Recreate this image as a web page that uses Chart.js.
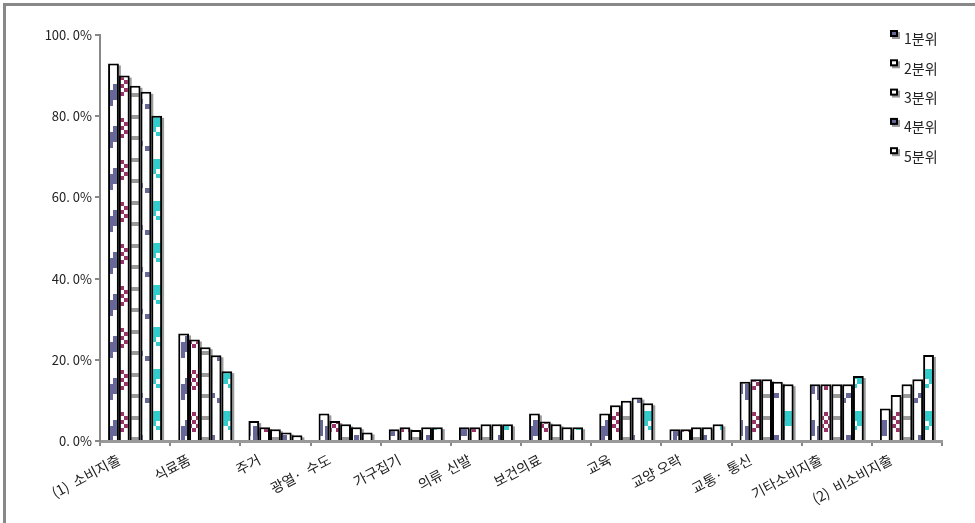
<!DOCTYPE html>
<html>
<head>
<meta charset="utf-8">
<script src="https://cdn.jsdelivr.net/npm/chart.js@4"></script>
<style>
  html, body { margin: 0; padding: 0; background: #fff; }
  #wrap { width: 975px; height: 523px; position: relative; }
</style>
</head>
<body>
<div id="wrap"><canvas id="graphic" width="975" height="523"></canvas></div>
<script>
const categories = ["(1)  소비지출", "식료품", "주거", "광열·  수도", "가구집기", "의류  신발", "보건의료", "교육", "교양 오락", "교통·  통신", "기타소비지출", "(2)  비소비지출"]
const seriesNames = ["1분위", "2분위", "3분위", "4분위", "5분위"]
const q1 = [93.0, 26.5, 4.9, 6.8, 2.9, 3.4, 6.8, 6.8, 2.9, 14.6, 14.0, 8.0]
const q2 = [90.0, 25.0, 3.4, 4.9, 3.4, 3.4, 4.8, 8.8, 2.9, 15.2, 14.0, 11.3]
const q3 = [87.5, 23.1, 2.9, 4.1, 2.7, 4.1, 4.1, 9.9, 3.4, 15.2, 14.0, 14.0]
const q4 = [86.0, 21.1, 2.1, 3.4, 3.4, 4.1, 3.4, 10.7, 3.4, 14.6, 14.0, 15.2]
const q5 = [80.1, 17.2, 1.4, 2.1, 3.4, 4.1, 3.4, 9.3, 4.1, 14.0, 16.0, 21.2]
const yTickLabels = ["0. 0%", "20. 0%", "40. 0%", "60. 0%", "80. 0%", "100. 0%"]

const FONT = "'Noto Sans CJK KR', 'Noto Sans', sans-serif"
const purple = "#666699", maroon = "#993366", grey = "#999999", teal = "#33cccc"

// small tiles that imitate the old excel fill patterns
let makeTile = (w, h, draw) => {
  const c = document.createElement("canvas")
  c.width = w
  c.height = h
  const t = c.getContext("2d")
  t.fillStyle = "#fff"
  t.fillRect(0, 0, w, h)
  draw(t)
  return c
}

let tiles = [
  makeTile(12, 42, (t) => {
    t.fillStyle = purple
    t.fillRect(5, 0, 6, 6)
    t.fillRect(1, 6, 10, 10)
    t.fillRect(1, 16, 4, 6)
  }),
  makeTile(8, 42, (t) => {
    t.fillStyle = maroon
    for (let r = 0; r < 5; r++) {
      t.fillRect((r % 2) * 4, r * 4, 4, 4)
    }
  }),
  makeTile(8, 43, (t) => {
    t.fillStyle = grey
    t.fillRect(0, 0, 8, 4)
    t.fillRect(0, 22, 8, 4)
  }),
  makeTile(12, 42, (t) => {
    t.fillStyle = purple
    t.fillRect(6, 0, 5, 5)
    t.fillRect(1, 5, 5, 5)
  }),
  makeTile(12, 42, (t) => {
    t.fillStyle = teal
    t.fillRect(0, 0, 12, 10)
    t.fillRect(5, 10, 7, 5)
    t.fillRect(0, 15, 5, 4)
  }),
]
const tileShift = [0, -8, 7, 15, 33]

const graphic = document.querySelector("#graphic")
const ctx0 = graphic.getContext("2d")
const fills = tiles.map((tile, i) => {
  const p = ctx0.createPattern(tile, "repeat")
  p.setTransform(new DOMMatrix([1, 0, 0, 1, 0, tileShift[i]]))
  return p
})
const seriesData = [q1, q2, q3, q4, q5]

const framePlugin = {
  id: "frame",
  beforeDraw(chart) {
    const ctx = chart.ctx
    ctx.save()
    ctx.fillStyle = "#fff"
    ctx.fillRect(0, 0, chart.width, chart.height)
    ctx.fillStyle = "#888"
    ctx.fillRect(3, 3, chart.width, 3)
    ctx.fillRect(3, 3, 3, chart.height)
    ctx.restore()
  },
  beforeDatasetsDraw(chart) {
    // grey drop shadow behind every bar
    const ctx = chart.ctx
    ctx.save()
    ctx.fillStyle = "#9a9a9a"
    chart.data.datasets.forEach((ds, i) => {
      chart.getDatasetMeta(i).data.forEach((bar) => {
        const p = bar.getProps(["x", "y", "base", "width"], true)
        ctx.fillRect(p.x - p.width / 2 + 2, p.y + 2, p.width, p.base - p.y - 2)
      })
    })
    ctx.restore()
  },
  afterDraw(chart) {
    const ctx = chart.ctx
    ctx.save()
    ctx.font = "14px " + FONT
    ctx.textBaseline = "middle"
    chart.data.datasets.forEach((ds, i) => {
      const yc = 39 + i * 29.3
      ctx.fillStyle = "#999"
      ctx.fillRect(892, yc - 7, 8, 7)
      ctx.fillStyle = "#000"
      ctx.fillRect(890, yc - 9, 8, 7)
      ctx.fillStyle = i === 0 || i === 3 ? purple : "#fff"
      ctx.fillRect(892, yc - 7, 4, 3)
      ctx.fillStyle = "#222"
      ctx.fillText(ds.label, 904, yc)
    })
    ctx.restore()
  },
}

let chart = new Chart(graphic, {
  type: "bar",
  data: {
    labels: categories,
    datasets: seriesData.map((values, i) => ({
      label: seriesNames[i],
      data: values,
      backgroundColor: fills[i],
      borderColor: "#000",
      borderWidth: 2,
      borderSkipped: "bottom",
    })),
  },
  options: {
    responsive: false,
    animation: false,
    devicePixelRatio: 1,
    layout: { padding: { left: 0, right: 33, top: 35, bottom: 0 } },
    datasets: { bar: { categoryPercentage: 0.77, barPercentage: 1.0 } },
    plugins: { legend: { display: false }, tooltip: { enabled: false } },
    scales: {
      x: {
        grid: { drawOnChartArea: false, drawTicks: true, tickLength: 5, color: "#888", lineWidth: 2 },
        border: { display: true, color: "#999", width: 3 },
        ticks: {
          autoSkip: false,
          maxRotation: 28,
          minRotation: 28,
          labelOffset: -16,
          padding: 5,
          color: "#222",
          font: { family: FONT, size: 14 },
        },
        afterFit(scale) { scale.height = 82 },
      },
      y: {
        min: 0,
        max: 100,
        grid: { drawOnChartArea: false, drawTicks: true, tickLength: 5, color: "#888", lineWidth: 2 },
        border: { display: true, color: "#888", width: 2 },
        ticks: {
          stepSize: 20,
          padding: 3,
          color: "#222",
          font: { family: FONT, size: 13 },
          callback: (v) => yTickLabels[v / 20],
        },
        afterFit(scale) { scale.width = 100 },
      },
    },
  },
  plugins: [framePlugin],
})
</script>
</body>
</html>
